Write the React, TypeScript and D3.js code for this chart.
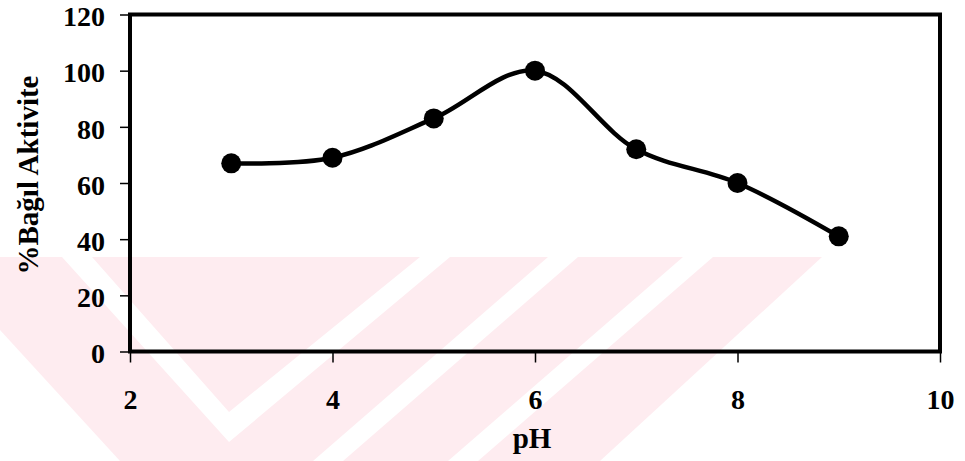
import { useRef, useEffect } from 'react'
import * as d3 from 'd3'

// pH optimum curve - relative activity (%)
const phValues = [3, 4, 5, 6, 7, 8, 9]
const activity = [67, 69, 83, 100, 72, 60, 41]
const yTicks = [0, 20, 40, 60, 80, 100, 120]
const xTicks = [2, 4, 6, 8, 10]

const W = 965
const H = 461
const FONT = "'Liberation Serif','Times New Roman',serif"
const PINK = '#feecf0'

export default function App() {
  const svgRef = useRef<SVGSVGElement | null>(null)

  useEffect(() => {
    const svg = svgRef.current
    if (!svg) return

    const margin = { top: 14.5, right: 25, bottom: 109.5, left: 130 }
    const iW = W - margin.left - margin.right
    const iH = H - margin.top - margin.bottom

    const sel = d3.select(svg)
    sel.selectAll('*').remove()

    // faint watermark behind the chart (page decoration, not data)
    const wm = sel.append('g')
    wm.append('polygon')
      .attr('points', '0,257 822,257 600,461 120,461 0,330')
      .attr('fill', PINK)
    const gaps = [
      '62,257 92,257 229,412 420,257 450,257 229,442',
      '548,257 578,257 343,461 313,461',
      '683,257 713,257 478,461 448,461',
      '615,461 650,418 685,461',
    ]
    gaps.forEach((p) => wm.append('polygon').attr('points', p).attr('fill', '#fff'))

    const g = sel.append('g').attr('transform', `translate(${margin.left},${margin.top})`)

    const x = d3.scaleLinear().domain([2, 10]).range([0, iW])
    const y = d3.scaleLinear().domain([0, 120]).range([iH, 0])

    const styleText = (s: any, size: number) =>
      s
        .attr('fill', '#000')
        .attr('font-size', `${size}px`)
        .attr('font-weight', 'bold')
        .attr('font-family', FONT)

    // left axis
    const yAxis = g
      .append('g')
      .call(d3.axisLeft(y).tickValues(yTicks).tickSize(10).tickSizeOuter(0).tickPadding(15))
    yAxis.select('.domain').remove()
    yAxis.selectAll('line').attr('stroke', '#000').attr('stroke-width', 1.5)
    styleText(yAxis.selectAll('text'), 28).attr('dy', '0.4em')

    // bottom axis
    const xAxis = g
      .append('g')
      .attr('transform', `translate(0,${iH})`)
      .call(d3.axisBottom(x).tickValues(xTicks).tickSize(11).tickSizeOuter(0).tickPadding(27))
    xAxis.select('.domain').remove()
    xAxis.selectAll('line').attr('stroke', '#000').attr('stroke-width', 1.5)
    styleText(xAxis.selectAll('text'), 28)

    // frame
    g.append('rect')
      .attr('x', 0)
      .attr('y', 0)
      .attr('width', iW)
      .attr('height', iH)
      .attr('fill', 'none')
      .attr('stroke', '#000')
      .attr('stroke-width', 4)

    // axis titles
    styleText(
      g.append('text')
        .attr('x', iW / 2 - 3)
        .attr('y', iH + 96)
        .attr('text-anchor', 'middle'),
      29
    ).text('pH')

    styleText(
      g.append('text')
        .attr('transform', `translate(${-92},${iH / 2 - 8}) rotate(-90)`)
        .attr('text-anchor', 'middle'),
      29
    ).text('%Bağıl Aktivite')

    const pts = phValues.map((p, i) => [p, activity[i]] as [number, number])

    const line = d3
      .line<[number, number]>()
      .x((d) => x(d[0]))
      .y((d) => y(d[1]))
      .curve(d3.curveCatmullRom.alpha(0.5))

    g.append('path')
      .datum(pts)
      .attr('d', line)
      .attr('fill', 'none')
      .attr('stroke', '#000')
      .attr('stroke-width', 4.5)

    g.selectAll('circle.pt')
      .data(pts)
      .join('circle')
      .attr('class', 'pt')
      .attr('cx', (d) => x(d[0]))
      .attr('cy', (d) => y(d[1]))
      .attr('r', 10)
      .attr('fill', '#000')
  }, [])

  return (
    <svg
      ref={svgRef}
      width={W}
      height={H}
      style={{ position: 'absolute', left: 0, top: 0, background: '#fff' }}
    />
  )
}
